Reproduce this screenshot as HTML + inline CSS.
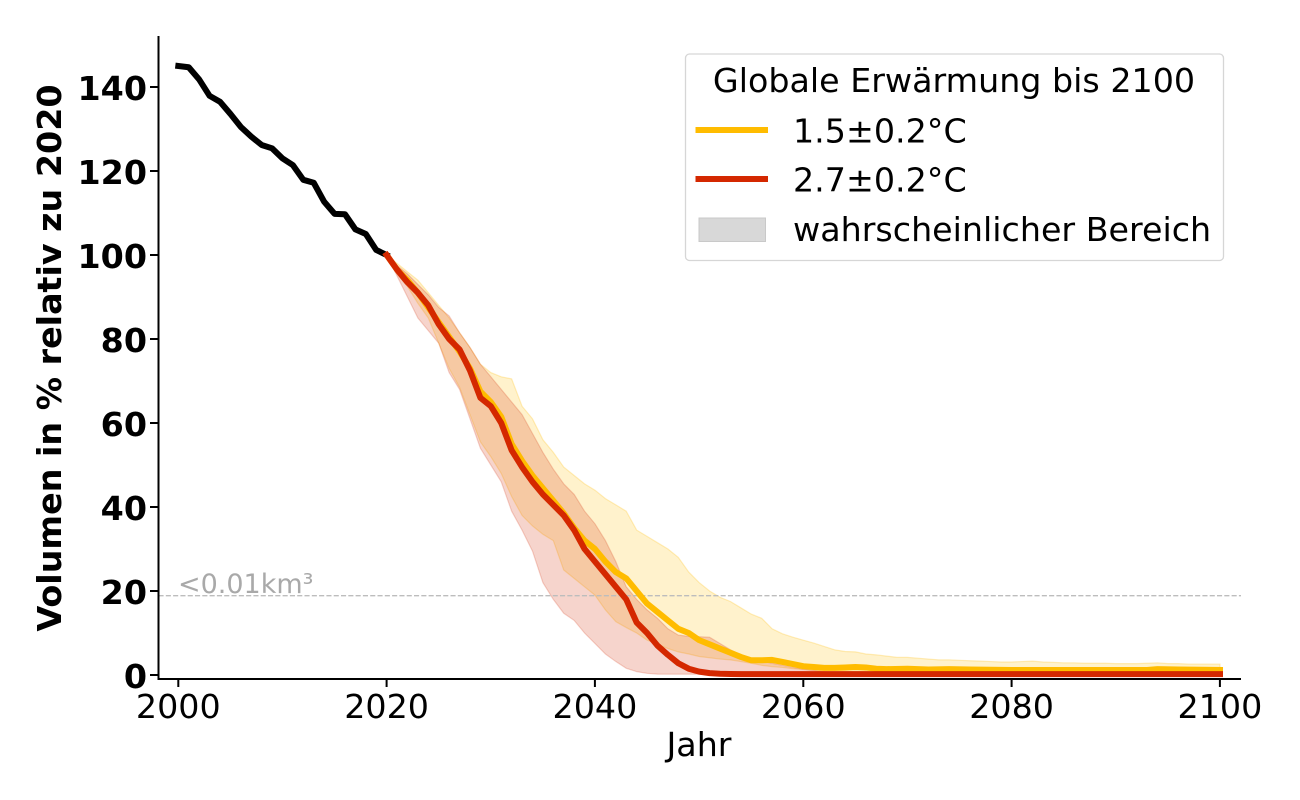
<!DOCTYPE html>
<html>
<head>
<meta charset="utf-8">
<style>
  html, body { margin: 0; padding: 0; background: #ffffff; }
  svg { display: block; }
  text { font-family: "DejaVu Sans", "Liberation Sans", sans-serif; }
</style>
</head>
<body>
<svg width="1300" height="800" viewBox="0 0 1300 800" xmlns="http://www.w3.org/2000/svg">
  <rect x="0" y="0" width="1300" height="800" fill="#ffffff"/>

  <g transform="translate(178.3 675) scale(10.417 -4.2) translate(-2000 0)">
    <polygon vector-effect="non-scaling-stroke" fill="#FFBC00" fill-opacity="0.2" stroke="#FFBC00" stroke-opacity="0.25" stroke-width="1.2"
      points="2020,100 2021,98 2022,96 2023,94 2024,91 2025,88 2026,85 2027,81.5 2028,78 2029,74 2030,72 2031,71 2032,70.5 2033,64 2034,61 2035,56 2036,53 2037,49.5 2038,47.5 2039,45.5 2040,44 2041,42 2042,40.5 2043,39 2044,34.5 2045,33 2046,31.5 2047,30 2048,28 2049,24.5 2050,22 2051,20 2052,18.5 2053,17.5 2054,16 2055,14.5 2056,13.5 2057,11 2058,9.8 2059,9 2060,8.3 2061,7.6 2062,6.8 2063,6 2064,5.6 2065,5.5 2066,5 2067,4.8 2068,4.5 2069,4.2 2070,4.2 2071,4 2072,3.8 2073,3.6 2074,3.6 2075,3.5 2076,3.4 2077,3.3 2078,3.2 2079,3.1 2080,3.1 2081,3.2 2082,3.3 2083,3.1 2084,3 2085,2.9 2086,2.9 2087,2.8 2088,2.8 2089,2.8 2090,2.7 2091,2.7 2092,2.7 2093,2.8 2094,2.9 2095,2.7 2096,2.7 2097,2.6 2098,2.6 2099,2.6 2100,2.6
      2100,0.8 2065,0.9 2062,1 2061,1.1 2060,1.3 2059,1.5 2058,1.8 2057,2 2056,2.3 2055,2.8 2054,3.2 2053,3.6 2052,3.8 2051,4.1 2050,4.4 2049,5 2048,5.5 2047,6.3 2046,7.3 2045,8.3 2044,10 2043,11.3 2042,12.7 2041,15.5 2040,19 2039,21 2038,23 2037,25 2036,32 2035,33.5 2034,35.5 2033,38 2032,42.5 2031,48 2030,52 2029,55.5 2028,62 2027,68.5 2026,73 2025,79 2024,85 2023,88.5 2022,92.5 2021,95.5 2020,100"/>
    <polygon vector-effect="non-scaling-stroke" fill="#D42800" fill-opacity="0.2" stroke="#D42800" stroke-opacity="0.2" stroke-width="1.2"
      points="2020,100 2021,97.5 2022,95.5 2023,93 2024,90.5 2025,87.5 2026,85.5 2027,81.5 2028,78 2029,74 2030,71 2031,68 2032,65 2033,62 2034,57.5 2035,53 2036,49 2037,45.5 2038,43 2039,39 2040,36 2041,32 2042,27 2043,21 2044,18 2045,15.5 2046,13.5 2047,11 2048,9.5 2049,9.2 2050,9.1 2051,9 2052,7.5 2053,6 2054,4.8 2055,4 2056,3.3 2057,2.8 2058,2.3 2059,1.8 2060,1.4 2061,1.1 2062,0.8 2063,0.6 2064,0.5 2065,0.4 2100,0.3
      2100,0.1 2046,0.2 2045,0.4 2044,0.8 2043,1.6 2042,3.2 2041,5 2040,7.5 2039,10 2038,13 2037,14.7 2036,18 2035,22 2034,29.5 2033,34.5 2032,39 2031,46 2030,50 2029,54 2028,61 2027,68 2026,72 2025,79 2024,82 2023,85 2022,90 2021,95 2020,100"/>
  </g>

  <line x1="158.5" y1="595.7" x2="1241" y2="595.7" stroke="#bdbdbd" stroke-width="1.4" stroke-dasharray="5.1 2.2"/>
  <text x="178" y="593" font-size="27" fill="#a9a9a9">&lt;0.01km³</text>

  <g transform="translate(178.3 675) scale(10.417 -4.2) translate(-2000 0)" fill="none" stroke-linejoin="round" stroke-linecap="square">
    <polyline vector-effect="non-scaling-stroke" stroke="#000000" stroke-width="6"
      points="2000,145 2001,144.7 2002,141.8 2003,137.9 2004,136.5 2005,133.6 2006,130.5 2007,128.2 2008,126.2 2009,125.4 2010,123 2011,121.4 2012,117.9 2013,117.2 2014,112.7 2015,109.8 2016,109.7 2017,106.1 2018,105 2019,101.2 2020,100"/>
    <polyline vector-effect="non-scaling-stroke" stroke="#FFBC00" stroke-width="6"
      points="2020,100 2021,96.5 2022,94 2023,91 2024,87.5 2025,84 2026,80.5 2027,77 2028,73 2029,67.5 2030,65 2031,61.5 2032,55 2033,51 2034,47.5 2035,44.5 2036,41.5 2037,38.5 2038,35 2039,32 2040,30 2041,27 2042,24.5 2043,23 2044,20 2045,17 2046,15 2047,13 2048,11 2049,10 2050,8.3 2051,7.3 2052,6.3 2053,5.3 2054,4.3 2055,3.5 2056,3.5 2057,3.6 2058,3.1 2059,2.6 2060,2.1 2061,1.9 2062,1.7 2063,1.7 2064,1.8 2065,1.9 2066,1.8 2067,1.5 2068,1.4 2070,1.5 2072,1.3 2074,1.4 2076,1.3 2080,1.2 2093,1.2 2094,1.4 2096,1.3 2100,1.2"/>
    <polyline vector-effect="non-scaling-stroke" stroke="#D42800" stroke-width="6"
      points="2020,100 2021,96.5 2022,93.5 2023,91 2024,88 2025,83.5 2026,80 2027,77.5 2028,72.5 2029,66 2030,64 2031,60 2032,53.5 2033,49.5 2034,46 2035,43 2036,40.5 2037,38 2038,34.5 2039,30 2040,27 2041,24 2042,21 2043,18 2044,12.5 2045,10 2046,7 2047,4.8 2048,2.8 2049,1.5 2050,0.8 2051,0.45 2052,0.3 2053,0.25 2054,0.2 2100,0.2"/>
  </g>

  <line x1="158.5" y1="36" x2="158.5" y2="680" stroke="#000" stroke-width="2"/>
  <line x1="157.5" y1="679" x2="1241" y2="679" stroke="#000" stroke-width="2"/>

  <g stroke="#000" stroke-width="2">
    <line x1="150" y1="675" x2="158.5" y2="675"/>
    <line x1="150" y1="591" x2="158.5" y2="591"/>
    <line x1="150" y1="507" x2="158.5" y2="507"/>
    <line x1="150" y1="423" x2="158.5" y2="423"/>
    <line x1="150" y1="339" x2="158.5" y2="339"/>
    <line x1="150" y1="255" x2="158.5" y2="255"/>
    <line x1="150" y1="171" x2="158.5" y2="171"/>
    <line x1="150" y1="87" x2="158.5" y2="87"/>
  </g>
  <g font-size="33.3" font-weight="bold" text-anchor="end" fill="#000">
    <text x="147" y="688">0</text>
    <text x="147" y="604">20</text>
    <text x="147" y="520">40</text>
    <text x="147" y="436">60</text>
    <text x="147" y="352">80</text>
    <text x="147" y="268">100</text>
    <text x="147" y="184">120</text>
    <text x="147" y="100">140</text>
  </g>

  <g stroke="#000" stroke-width="2">
    <line x1="178.3" y1="679" x2="178.3" y2="687"/>
    <line x1="386.6" y1="679" x2="386.6" y2="687"/>
    <line x1="594.9" y1="679" x2="594.9" y2="687"/>
    <line x1="803.3" y1="679" x2="803.3" y2="687"/>
    <line x1="1011.6" y1="679" x2="1011.6" y2="687"/>
    <line x1="1219.9" y1="679" x2="1219.9" y2="687"/>
  </g>
  <g font-size="33.3" text-anchor="middle" fill="#000">
    <text x="178.3" y="718">2000</text>
    <text x="386.6" y="718">2020</text>
    <text x="594.9" y="718">2040</text>
    <text x="803.3" y="718">2060</text>
    <text x="1011.6" y="718">2080</text>
    <text x="1219.9" y="718">2100</text>
  </g>

  <text x="699" y="756" font-size="33.3" text-anchor="middle" fill="#000">Jahr</text>
  <text transform="translate(61 358) rotate(-90)" x="0" y="0" font-size="33.3" font-weight="bold" text-anchor="middle" fill="#000">Volumen in % relativ zu 2020</text>

  <rect x="685.5" y="54" width="538" height="206.5" rx="4" ry="4" fill="#ffffff" fill-opacity="0.8" stroke="#d6d6d6" stroke-width="1.3"/>
  <text x="954" y="92" font-size="33.3" text-anchor="middle" fill="#000">Globale Erwärmung bis 2100</text>
  <line x1="698.5" y1="130" x2="765" y2="130" stroke="#FFBC00" stroke-width="6" stroke-linecap="square"/>
  <text x="793" y="142.5" font-size="33.3" fill="#000">1.5±0.2°C</text>
  <line x1="698.5" y1="179" x2="765" y2="179" stroke="#D42800" stroke-width="6" stroke-linecap="square"/>
  <text x="793" y="191.5" font-size="33.3" fill="#000">2.7±0.2°C</text>
  <rect x="699" y="218" width="66.5" height="23.5" fill="#d8d8d8" stroke="#c9c9c9" stroke-width="1"/>
  <text x="793" y="241" font-size="33.3" fill="#000">wahrscheinlicher Bereich</text>
</svg>
</body>
</html>
